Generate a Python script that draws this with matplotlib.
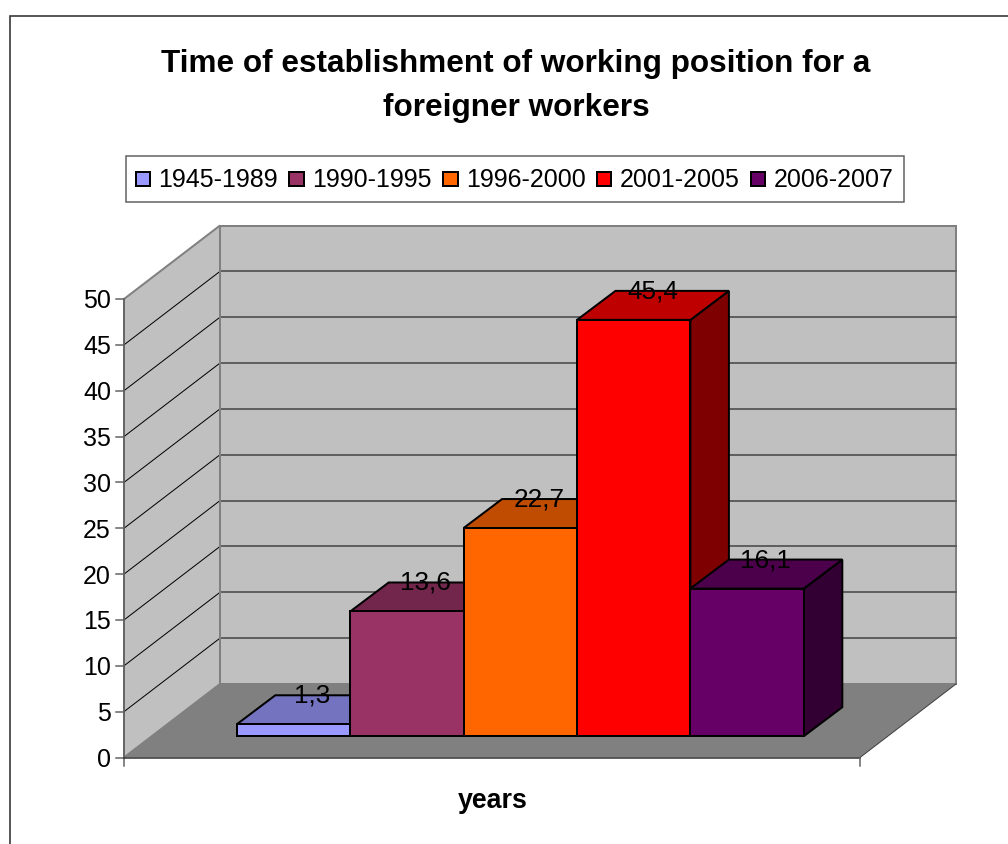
import matplotlib
matplotlib.use("Agg")
import matplotlib.pyplot as plt
from matplotlib.patches import Polygon, Rectangle

plt.rcParams['font.family'] = ['Liberation Sans', 'DejaVu Sans']

title = "Time of establishment of working position for a\nforeigner workers"
xlabel = "years"
periods = ["1945-1989", "1990-1995", "1996-2000", "2001-2005", "2006-2007"]
values = [1.3, 13.6, 22.7, 45.4, 16.1]
labels = ["1,3", "13,6", "22,7", "45,4", "16,1"]
ticks = [0, 5, 10, 15, 20, 25, 30, 35, 40, 45, 50]

front_colors = ["#9999FF", "#993366", "#FF6600", "#FF0000", "#660066"]
top_colors = ["#7373BF", "#73264C", "#BF4C00", "#BF0000", "#4C004C"]
side_colors = ["#4C4C7F", "#4C1933", "#7F3300", "#7F0000", "#330033"]

### geometry of the fake 3d box, in pixels of the picture ###
x_left, x_right = 124, 860
y_zero, y_top = 757.5, 299
dx, dy = 96, -73.5
px_per_unit = (y_zero - y_top) / ticks[-1]

bar_left = 236.8
bar_width = 113.4
bar_base = 736.2
bar_dx, bar_dy = 38.5, -29

px = 0.72  # one pixel in points at dpi 100

fig = plt.figure(figsize=(10.08, 8.44), dpi=100)
ax = fig.add_axes([0, 0, 1, 1])
ax.set_xlim(0, 1008)
ax.set_ylim(844, 0)
ax.axis("off")


def poly(points, color, edge, lw, z=1):
    ax.add_patch(Polygon(points, closed=True, facecolor=color, edgecolor=edge,
                         linewidth=lw * px, joinstyle="miter", zorder=z))


### chart border, only top and left are inside the picture ###
ax.plot([1008, 9.5, 9.5], [15.5, 15.5, 844], color="#303030", lw=1.6 * px, solid_joinstyle="miter")

### walls and floor ###
poly([(x_left, y_zero), (x_left + dx, y_zero + dy), (x_left + dx, y_top + dy), (x_left, y_top)],
     "#C0C0C0", "#808080", 2)
poly([(x_left + dx, y_zero + dy), (x_right + dx, y_zero + dy), (x_right + dx, y_top + dy), (x_left + dx, y_top + dy)],
     "#C0C0C0", "#808080", 2)
poly([(x_left, y_zero), (x_right, y_zero), (x_right + dx, y_zero + dy), (x_left + dx, y_zero + dy)],
     "#808080", "none", 0, z=1.5)

### gridlines and ticks ###
for t in ticks:
    y = y_zero - t * px_per_unit
    if t > 0 and t < ticks[-1]:
        ax.plot([x_left, x_left + dx], [y, y + dy], color="black", lw=1 * px, zorder=2)
        ax.plot([x_left + dx, x_right + dx], [y + dy, y + dy], color="#606060", lw=2 * px, zorder=2)
    ax.plot([x_left - 8, x_left], [y, y], color="#606060", lw=1.5 * px, zorder=2)
    ax.text(x_left - 13, y, str(t), ha="right", va="center_baseline", fontsize=18, color="black", zorder=6)

ax.plot([x_left + dx, x_left + dx], [y_zero + dy, y_top + dy], color="#808080", lw=2 * px, zorder=2)
ax.plot([x_left, x_left], [y_top, y_zero + 8], color="#606060", lw=1.5 * px, zorder=3)
ax.plot([x_left, x_right], [y_zero, y_zero], color="#303030", lw=1.5 * px, zorder=3)
ax.plot([x_right, x_right + dx], [y_zero, y_zero + dy], color="#404040", lw=1 * px, zorder=3)
ax.plot([x_right, x_right], [y_zero, y_zero + 8], color="#606060", lw=1.5 * px, zorder=3)
ax.plot([x_left, x_left + dx], [y_zero, y_zero + dy], color="#808080", lw=1 * px, zorder=2)

### bars, left to right so the next one covers the side of the previous ###
for i, v in enumerate(values):
    x0 = bar_left + i * bar_width
    x1 = x0 + bar_width
    ytop = bar_base - v * px_per_unit
    z = 4 + i * 0.1
    poly([(x1, bar_base), (x1 + bar_dx, bar_base + bar_dy), (x1 + bar_dx, ytop + bar_dy), (x1, ytop)],
         side_colors[i], "black", 2, z)
    poly([(x0, ytop), (x1, ytop), (x1 + bar_dx, ytop + bar_dy), (x0 + bar_dx, ytop + bar_dy)],
         top_colors[i], "black", 2, z)
    poly([(x0, bar_base), (x1, bar_base), (x1, ytop), (x0, ytop)],
         front_colors[i], "black", 2, z)
    ax.text((x0 + x1 + bar_dx) / 2 - 0.5, ytop + bar_dy - 2, labels[i], ha="center", va="center_baseline",
            fontsize=18.8, color="black", zorder=6)

### title and axis label ###
ax.text(516, 86, title, ha="center", va="center", fontsize=22.7, fontweight="bold",
        linespacing=1.6, color="black")
ax.text(492.5, 798, xlabel, ha="center", va="center_baseline", fontsize=19.3, fontweight="bold", color="black")

### legend ###
ax.add_patch(Rectangle((125.5, 155.5), 778.5, 46, facecolor="white", edgecolor="#606060", linewidth=1.5 * px))
for i, p in enumerate(periods):
    sx = 135.5 + i * 153.8
    ax.add_patch(Rectangle((sx, 171.5), 14.5, 14.5, facecolor=front_colors[i], edgecolor="black", linewidth=2 * px))
    ax.text(sx + 23, 177.5, p, ha="left", va="center_baseline", fontsize=18, color="black")

plt.savefig("out.png", dpi=100)
plt.close()
